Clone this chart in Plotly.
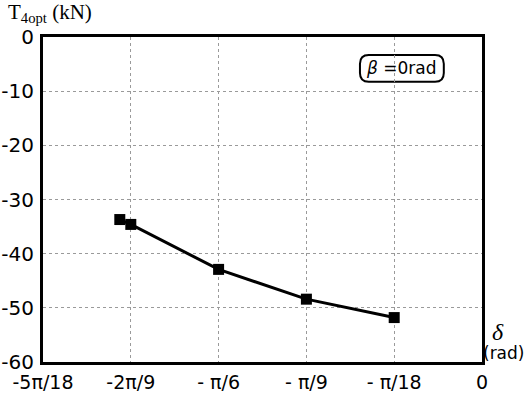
import math
import plotly.graph_objects as go

# steering angle delta (rad) and optimal force T4opt (kN)
delta = [-0.72, -2 * math.pi / 9, -math.pi / 6, -math.pi / 9, -math.pi / 18]
t4opt = [-33.7, -34.6, -42.9, -48.4, -51.8]

x_tickvals = [-5 * math.pi / 18, -2 * math.pi / 9, -math.pi / 6, -math.pi / 9, -math.pi / 18, 0]
x_ticktext = ["-5π/18", "-2π/9", "- π/6", "- π/9", "- π/18", "0"]
y_tickvals = [0, -10, -20, -30, -40, -50, -60]

FONT = "DejaVu Sans"

fig = go.Figure()
fig.add_trace(go.Scatter(
    x=delta, y=t4opt, mode="lines+markers",
    line=dict(color="black", width=3),
    marker=dict(symbol="square", size=11, color="black"),
    showlegend=False,
))

axis_common = dict(
    showline=True, linecolor="black", linewidth=3, mirror=True,
    showgrid=True, gridcolor="#9a9a9a", griddash="dot", gridwidth=1,
    zeroline=False, ticks="", automargin=False,
)

fig.update_layout(
    width=528, height=394,
    margin=dict(l=43, r=46, t=37, b=32),
    paper_bgcolor="white", plot_bgcolor="white",
    xaxis=dict(range=[-5 * math.pi / 18, 0], tickvals=x_tickvals, ticktext=x_ticktext,
               ticklabelstandoff=1, tickfont=dict(family=FONT, size=19, color="black"),
               **axis_common),
    yaxis=dict(range=[-60, 0], tickvals=y_tickvals, ticktext=[str(v) for v in y_tickvals],
               ticklabelstandoff=2, tickfont=dict(family=FONT, size=20, color="black"),
               **axis_common),
)

# rounded label box for the beta condition
x0, x1, y0, y1 = 0.722, 0.913, 0.862, 0.945
rx, ry = 0.02, 0.027
path = (f"M {x0+rx},{y0} L {x1-rx},{y0} Q {x1},{y0} {x1},{y0+ry} "
        f"L {x1},{y1-ry} Q {x1},{y1} {x1-rx},{y1} L {x0+rx},{y1} "
        f"Q {x0},{y1} {x0},{y1-ry} L {x0},{y0+ry} Q {x0},{y0} {x0+rx},{y0} Z")
fig.add_shape(type="path", path=path, xref="paper", yref="paper",
              line=dict(color="black", width=2), fillcolor="white", layer="below")
fig.add_annotation(x=(x0 + x1) / 2, y=(y0 + y1) / 2, xref="paper", yref="paper",
                   xanchor="center", yanchor="middle",
                   text="<i>β</i> =0rad", showarrow=False,
                   font=dict(family=FONT, size=17, color="black"))

# axis titles
fig.add_annotation(x=-0.085, y=1.0, xref="paper", yref="paper", yanchor="bottom", xanchor="left",
                   yshift=9,
                   text="T<sub>4opt</sub> (kN)", showarrow=False,
                   font=dict(family="Liberation Serif", size=21, color="black"))
fig.add_annotation(x=1.0, y=0.092, xref="paper", yref="paper", xanchor="left", yanchor="middle",
                   text="<i>δ</i>", showarrow=False, xshift=8,
                   font=dict(family="Liberation Serif", size=24, color="black"))
fig.add_annotation(x=1.0, y=0.028, xref="paper", yref="paper", xanchor="left", yanchor="middle",
                   text="(rad)", showarrow=False, xshift=-1,
                   font=dict(family=FONT, size=17, color="black"))

fig.write_html("out.html")
